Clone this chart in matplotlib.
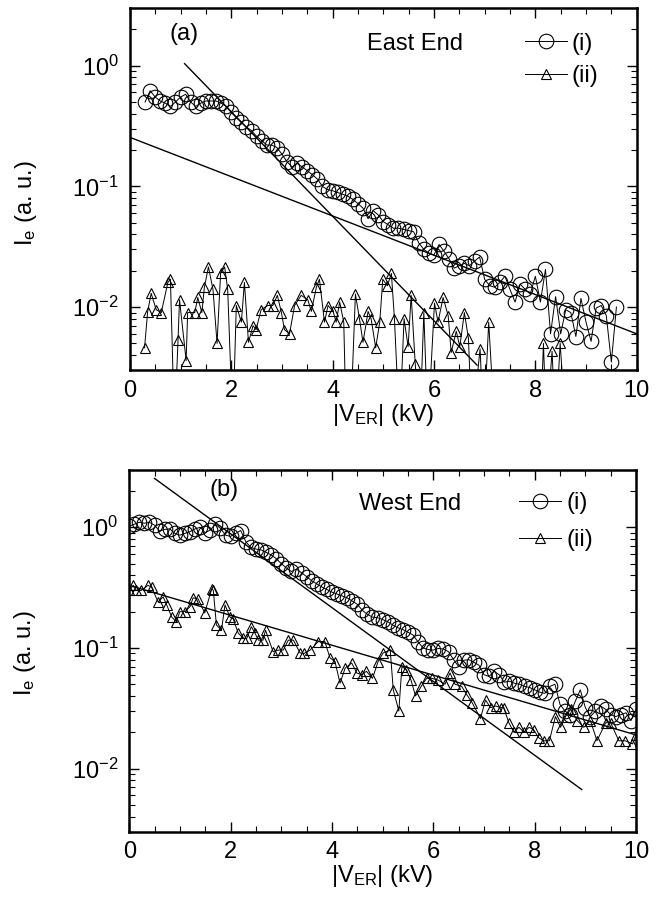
import numpy as np
import matplotlib
matplotlib.use("Agg")
import matplotlib.pyplot as plt
from matplotlib.ticker import MultipleLocator

plt.rcParams['font.family'] = ['Liberation Sans', 'DejaVu Sans']
plt.rcParams['mathtext.fontset'] = 'custom'
plt.rcParams['mathtext.rm'] = 'Liberation Sans'
plt.rcParams['mathtext.it'] = 'Liberation Sans:italic'
plt.rcParams['mathtext.default'] = 'regular'

# ---- panel (a): East End ----
a_i_x = np.round(np.arange(0.3, 9.65, 0.1), 2)
a_i_y = [0.50, 0.62, 0.55, 0.51, 0.49, 0.46, 0.50, 0.55, 0.58, 0.50,
         0.46, 0.49, 0.51, 0.51, 0.51, 0.49, 0.46, 0.41, 0.37, 0.34,
         0.31, 0.29, 0.26, 0.24, 0.22, 0.22, 0.21, 0.185, 0.16, 0.145,
         0.155, 0.145, 0.135, 0.125, 0.115, 0.10, 0.094, 0.092, 0.089, 0.086,
         0.083, 0.078, 0.072, 0.066, 0.054, 0.063, 0.058, 0.051, 0.048, 0.045,
         0.045, 0.044, 0.043, 0.042, 0.034, 0.030, 0.028, 0.027, 0.033, 0.029,
         0.025, 0.021, 0.022, 0.023, 0.022, 0.024, 0.026, 0.017, 0.015, 0.0146,
         0.016, 0.018, 0.014, 0.011, 0.0155, 0.014, 0.0128, 0.018, 0.011, 0.0205,
         0.006, 0.0122, 0.006, 0.0095, 0.009, 0.0057, 0.0118, 0.0075, 0.0052, 0.0098,
         0.0103, 0.0085, 0.0035, 0.0100]

a_ii_x = [0.29, 0.35, 0.42, 0.52, 0.62, 0.75, 0.80, 0.88, 0.95, 0.98,
          1.11, 1.14, 1.28, 1.34, 1.42, 1.47, 1.55, 1.64, 1.72, 1.79,
          1.87, 1.93, 2.03, 2.10, 2.20, 2.26, 2.34, 2.43, 2.49, 2.59,
          2.72, 2.82, 2.91, 2.99, 3.05, 3.15, 3.25, 3.38, 3.51, 3.58,
          3.68, 3.74, 3.84, 3.91, 4.01, 4.07, 4.14, 4.22, 4.27, 4.35,
          4.45, 4.53, 4.60, 4.70, 4.76, 4.85, 4.93, 4.99, 5.08, 5.16,
          5.22, 5.32, 5.41, 5.49, 5.55, 5.63, 5.72, 5.80, 5.88, 6.01,
          6.08, 6.18, 6.28, 6.34, 6.44, 6.51, 6.60, 6.68, 6.75, 6.91,
          6.98, 7.08, 7.20, 7.50, 7.80, 8.10, 8.16, 8.22, 8.33, 8.40,
          8.49, 8.60, 9.00, 9.60]
a_ii_y = [0.0046, 0.0091, 0.013, 0.0095, 0.009, 0.016, 0.017, 0.001, 0.0053, 0.0115,
          0.0036, 0.009, 0.009, 0.012, 0.009, 0.0146, 0.0215, 0.014, 0.005, 0.019,
          0.0215, 0.014, 0.001, 0.0103, 0.0075, 0.016, 0.0051, 0.007, 0.0065, 0.0095,
          0.0103, 0.0103, 0.0125, 0.009, 0.0065, 0.006, 0.0103, 0.0125, 0.0115, 0.0092,
          0.0146, 0.017, 0.0075, 0.0103, 0.0092, 0.0075, 0.011, 0.0075, 0.001, 0.001,
          0.0128, 0.008, 0.0051, 0.0092, 0.008, 0.0046, 0.0075, 0.017, 0.015, 0.019,
          0.008, 0.001, 0.008, 0.0047, 0.0125, 0.0034, 0.001, 0.009, 0.001, 0.0108,
          0.0075, 0.012, 0.0085, 0.0042, 0.0063, 0.0047, 0.009, 0.0055, 0.001, 0.0045,
          0.001, 0.0075, 0.001, 0.001, 0.001, 0.001, 0.005, 0.001, 0.0043, 0.001,
          0.005, 0.001, 0.001, 0.001]

a_fit1_x = [1.08, 6.85]
a_fit1_y = [1.04, 0.0033]
a_fit2_x = [0.0, 10.0]
a_fit2_y = [0.255, 0.006]

# ---- panel (b): West End ----
b_i_x = np.round(np.arange(0.0, 10.05, 0.1), 2)
b_i_y = [1.02, 1.06, 1.10, 1.08, 1.10, 1.04, 0.93, 0.96, 0.97, 0.89,
         0.86, 0.89, 0.92, 0.97, 1.00, 0.90, 0.95, 1.06, 0.98, 0.86,
         0.84, 0.89, 0.94, 0.76, 0.68, 0.66, 0.65, 0.62, 0.59, 0.55,
         0.50, 0.46, 0.43, 0.45, 0.42, 0.39, 0.36, 0.34, 0.32, 0.305,
         0.29, 0.28, 0.27, 0.26, 0.245, 0.23, 0.205, 0.19, 0.18, 0.178,
         0.172, 0.165, 0.155, 0.147, 0.142, 0.135, 0.128, 0.112, 0.100, 0.097,
         0.096, 0.099, 0.098, 0.093, 0.080, 0.070, 0.079, 0.080, 0.076, 0.072,
         0.060, 0.058, 0.064, 0.060, 0.052, 0.053, 0.051, 0.050, 0.048, 0.047,
         0.045, 0.043, 0.042, 0.048, 0.050, 0.034, 0.030, 0.028, 0.036, 0.045,
         0.032, 0.027, 0.030, 0.033, 0.031, 0.028, 0.027, 0.028, 0.029, 0.025,
         0.031]

b_ii_x = [0.0, 0.08, 0.14, 0.24, 0.37, 0.44, 0.57, 0.67, 0.74, 0.84,
          0.93, 1.00, 1.10, 1.20, 1.26, 1.36, 1.49, 1.63, 1.66, 1.72,
          1.82, 1.89, 1.99, 2.05, 2.15, 2.25, 2.32, 2.41, 2.48, 2.55,
          2.64, 2.69, 2.84, 2.94, 3.04, 3.14, 3.24, 3.37, 3.45, 3.57,
          3.73, 3.86, 3.96, 4.06, 4.16, 4.26, 4.39, 4.49, 4.59, 4.68,
          4.80, 4.91, 5.01, 5.15, 5.21, 5.32, 5.38, 5.47, 5.56, 5.65,
          5.76, 5.87, 5.97, 6.10, 6.23, 6.33, 6.43, 6.56, 6.66, 6.77,
          6.93, 7.03, 7.13, 7.23, 7.33, 7.39, 7.49, 7.59, 7.69, 7.79,
          7.89, 7.98, 8.08, 8.18, 8.29, 8.41, 8.51, 8.61, 8.71, 8.84,
          8.97, 9.10, 9.23, 9.40, 9.50, 9.66, 9.79, 9.93, 10.0]
b_ii_y = [0.30, 0.33, 0.30, 0.30, 0.33, 0.32, 0.24, 0.265, 0.227, 0.18,
          0.165, 0.20, 0.20, 0.22, 0.26, 0.255, 0.195, 0.31, 0.30, 0.155,
          0.14, 0.227, 0.18, 0.175, 0.133, 0.12, 0.12, 0.15, 0.133, 0.116,
          0.116, 0.14, 0.093, 0.096, 0.096, 0.116, 0.116, 0.091, 0.09, 0.096,
          0.113, 0.113, 0.083, 0.077, 0.051, 0.068, 0.075, 0.062, 0.060, 0.064,
          0.056, 0.077, 0.091, 0.096, 0.045, 0.030, 0.070, 0.066, 0.054, 0.040,
          0.048, 0.056, 0.056, 0.054, 0.050, 0.062, 0.050, 0.048, 0.041, 0.035,
          0.026, 0.037, 0.032, 0.033, 0.032, 0.032, 0.024, 0.020, 0.022, 0.020,
          0.022, 0.021, 0.018, 0.017, 0.017, 0.027, 0.022, 0.027, 0.031, 0.025,
          0.022, 0.025, 0.017, 0.024, 0.024, 0.017, 0.017, 0.016, 0.019]

b_fit1_x = [0.5, 8.93]
b_fit1_y = [2.54, 0.0067]
b_fit2_x = [0.0, 10.0]
b_fit2_y = [0.33, 0.019]

FS = 17

fig = plt.figure(figsize=(6.66, 9.05), dpi=100)
ax_a = fig.add_axes([0.195, 0.591, 0.761, 0.400])
ax_b = fig.add_axes([0.194, 0.081, 0.761, 0.400])


def style_axes(ax, ylab_y):
    ax.set_yscale('log')
    ax.set_xlim(0, 10)
    ax.set_ylim(0.003, 3.0)
    ax.xaxis.set_major_locator(MultipleLocator(2))
    ax.xaxis.set_minor_locator(MultipleLocator(0.5))
    ax.tick_params(which='both', direction='in', top=True, right=True,
                   labelsize=FS)
    ax.tick_params(which='major', length=7, width=1)
    ax.tick_params(which='minor', length=4, width=0.8)
    ax.tick_params(axis='x', which='major', pad=7)
    ax.tick_params(axis='y', which='major', pad=8)
    for s in ax.spines.values():
        s.set_linewidth(1.8)
    ax.set_xlabel('|V$_{ER}$| (kV)', fontsize=FS, labelpad=0)
    ax.set_ylabel('I$_{e}$ (a. u.)', fontsize=FS)
    ax.yaxis.set_label_coords(-0.18, ylab_y)


def draw_panel(ax, xi, yi, xii, yii, f1x, f1y, f2x, f2y, ylab_y):
    ax.plot(xi, yi, color='black', lw=0.7, marker='o', ms=10.5, mfc='none',
            mec='black', mew=0.8, label='(i)')
    ax.plot(xii, yii, color='black', lw=0.7, marker='^', ms=7, mfc='none',
            mec='black', mew=0.8, label='(ii)')
    ax.plot(f1x, f1y, color='black', lw=1.0)
    ax.plot(f2x, f2y, color='black', lw=1.0)
    style_axes(ax, ylab_y)


draw_panel(ax_a, a_i_x, a_i_y, a_ii_x, a_ii_y,
           a_fit1_x, a_fit1_y, a_fit2_x, a_fit2_y, 0.46)
ax_a.text(0.079, 0.928, '(a)', transform=ax_a.transAxes, fontsize=FS, va='center')
ax_a.text(0.467, 0.900, 'East End', transform=ax_a.transAxes, fontsize=FS, va='center')
ax_a.legend(loc='upper right', bbox_to_anchor=(0.925, 0.932), frameon=False,
            fontsize=FS, handlelength=1.8, handletextpad=0.2, labelspacing=0.45,
            borderpad=0, borderaxespad=0)

draw_panel(ax_b, b_i_x, b_i_y, b_ii_x, b_ii_y,
           b_fit1_x, b_fit1_y, b_fit2_x, b_fit2_y, 0.494)
ax_b.text(0.158, 0.945, '(b)', transform=ax_b.transAxes, fontsize=FS, va='center')
ax_b.text(0.454, 0.905, 'West End', transform=ax_b.transAxes, fontsize=FS, va='center')
ax_b.legend(loc='upper right', bbox_to_anchor=(0.915, 0.938), frameon=False,
            fontsize=FS, handlelength=1.8, handletextpad=0.2, labelspacing=0.62,
            borderpad=0, borderaxespad=0)

fig.savefig('out.png', dpi=100)
